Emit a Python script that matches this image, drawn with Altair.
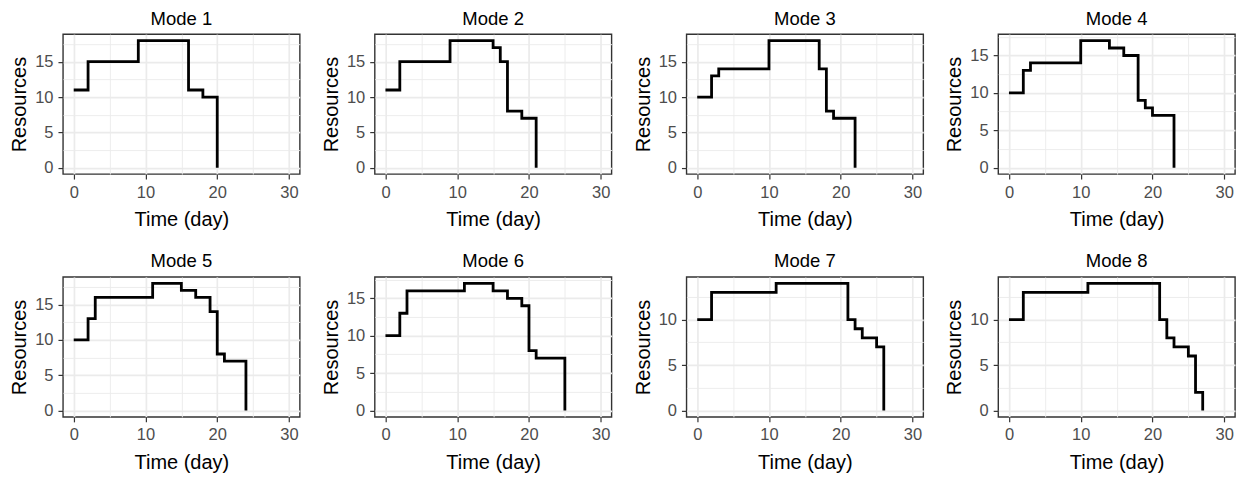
import altair as alt
import pandas as pd

FONT = "Liberation Sans"

# Step data (time where each level starts, resource level)
mode1_time = [0, 2, 9, 16, 18, 20]
mode1_res = [11, 15, 18, 11, 10, 0]

mode2_time = [0, 2, 9, 15, 16, 17, 19, 21]
mode2_res = [11, 15, 18, 17, 15, 8, 7, 0]

mode3_time = [0, 2, 3, 10, 17, 18, 19, 22]
mode3_res = [10, 13, 14, 18, 14, 8, 7, 0]

mode4_time = [0, 2, 3, 10, 14, 16, 18, 19, 20, 23]
mode4_res = [10, 13, 14, 17, 16, 15, 9, 8, 7, 0]

mode5_time = [0, 2, 3, 11, 15, 17, 19, 20, 21, 24]
mode5_res = [10, 13, 16, 18, 17, 16, 14, 8, 7, 0]

mode6_time = [0, 2, 3, 11, 15, 17, 19, 20, 21, 25]
mode6_res = [10, 13, 16, 17, 16, 15, 14, 8, 7, 0]

mode7_time = [0, 2, 11, 21, 22, 23, 25, 26]
mode7_res = [10, 13, 14, 10, 9, 8, 7, 0]

mode8_time = [0, 2, 11, 21, 22, 23, 25, 26, 27]
mode8_res = [10, 13, 14, 10, 8, 7, 6, 2, 0]

mode_names = ["Mode 1", "Mode 2", "Mode 3", "Mode 4", "Mode 5", "Mode 6", "Mode 7", "Mode 8"]
series = [
    (mode1_time, mode1_res), (mode2_time, mode2_res), (mode3_time, mode3_res), (mode4_time, mode4_res),
    (mode5_time, mode5_res), (mode6_time, mode6_res), (mode7_time, mode7_res), (mode8_time, mode8_res),
]

x_major = [0, 10, 20, 30]
x_minor = [5, 15, 25]
y_major_all = [0, 5, 10, 15]
y_minor_all = [2.5, 7.5, 12.5, 17.5]

X_TITLE = "Time (day)"
Y_TITLE = "Resources"


def panel(name, t, r):
    df = pd.DataFrame({"Time": t, "Resources": r})
    ymax = max(r)
    lo, hi = -0.05 * ymax, 1.05 * ymax
    xs = alt.Scale(domain=[-1.5, 31.5], nice=False, zero=False)
    ys = alt.Scale(domain=[lo, hi], nice=False, zero=False)
    y_major = [v for v in y_major_all if lo <= v <= hi]
    y_minor = [v for v in y_minor_all if lo <= v <= hi]

    minor = alt.Chart(df).mark_line(strokeOpacity=0, interpolate="step-after").encode(
        x=alt.X("Time:Q", scale=xs, axis=alt.Axis(orient="top", values=x_minor, grid=True, gridWidth=0.9,
                                                 labels=False, ticks=False, domain=False, title=None)),
        y=alt.Y("Resources:Q", scale=ys, axis=alt.Axis(orient="right", values=y_minor, grid=True, gridWidth=0.9,
                                                      labels=False, ticks=False, domain=False, title=None)),
    )
    major = alt.Chart(df).mark_line(interpolate="step-after", color="black", strokeWidth=2.8).encode(
        x=alt.X("Time:Q", scale=xs, axis=alt.Axis(values=x_major, grid=True, gridWidth=1.7, title=X_TITLE,
                                                 format="d")),
        y=alt.Y("Resources:Q", scale=ys, axis=alt.Axis(values=y_major, grid=True, gridWidth=1.7, title=Y_TITLE,
                                                      format="d")),
    )
    return alt.layer(minor, major).resolve_axis(x="independent", y="independent").properties(
        width=237, height=140, title=alt.Title(name)
    )


panels = [panel(n, t, r) for n, (t, r) in zip(mode_names, series)]

chart = alt.concat(*panels, columns=4, spacing={"row": 103, "column": 75}, bounds="flush").configure(
    padding={"left": 0, "top": 0, "right": 0, "bottom": 0}
).configure_view(
    stroke="#333333", strokeWidth=1.4
).configure_axis(
    labelFont=FONT, labelFontSize=16.5, labelColor="#4D4D4D",
    titleFont=FONT, titleFontSize=20, titleColor="black", titleFontWeight="normal",
    tickColor="#333333", tickWidth=1.2, tickSize=5, labelPadding=5,
    domain=False, gridColor="#EBEBEB",
).configure_axisX(
    titlePadding=9
).configure_axisY(
    titlePadding=5
).configure_title(
    font=FONT, fontSize=18.5, fontWeight="normal", color="black", anchor="middle", offset=6
)

chart.save("out.html", embed_options={"renderer": "svg", "actions": False})
